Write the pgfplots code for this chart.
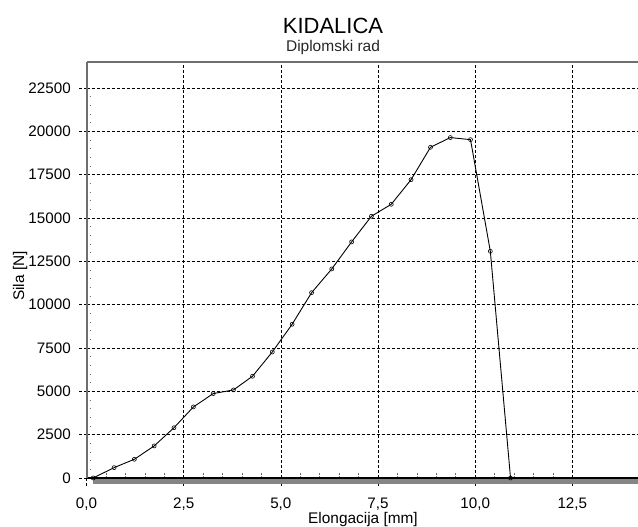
\documentclass[border=0pt]{standalone}
\usepackage{fontspec}
\setmainfont{Liberation Sans}
\usepackage{pgfplots}
\pgfplotsset{compat=1.18}
\definecolor{axgray}{HTML}{6E6E6E}
\definecolor{bandgray}{HTML}{858585}
\begin{document}
\begin{tikzpicture}
\useasboundingbox (0,0) rectangle (638pt,527pt);
\begin{axis}[
  at={(86.55pt,49pt)}, anchor=south west,
  scale only axis, width=551.45pt, height=416pt,
  xmin=0, xmax=14.19, ymin=0, ymax=24000,
  clip=false,
  scaled y ticks=false, scaled x ticks=false,
  axis x line*=bottom, axis y line*=left,
  x axis line style={-, black, line width=1.3pt},
  y axis line style={-, axgray, line width=2pt},
  xtick={0,2.5,5,7.5,10,12.5},
  xticklabels={{0,0},{2,5},{5,0},{7,5},{10,0},{12,5}},
  ytick={0,2500,5000,7500,10000,12500,15000,17500,20000,22500},
  yticklabels={0,2500,5000,7500,10000,12500,15000,17500,20000,22500},
  minor x tick num=4, minor y tick num=4,
  tick align=inside,
  major tick length=-8pt, minor tick length=5pt,
  major tick style={black, line width=0.6pt, dash pattern=on 3pt off 2pt},
  minor tick style={axgray, line width=0.6pt, dash pattern=on 1.5pt off 1.5pt},
  grid=major,
  major grid style={black, line width=0.6pt, dash pattern=on 3pt off 2pt},
  ticklabel style={font=\fontsize{15.2pt}{18pt}\selectfont, inner sep=0pt},
  xticklabel style={anchor=north, yshift=-20pt},
  yticklabel style={anchor=east, xshift=-15.6pt},
]
\addplot[bandgray, line width=5.5pt, no marks] coordinates {(0.16,-190) (14.19,-190)};
\addplot[black, line width=0.9pt, mark=o, mark size=2pt, mark options={solid, line width=0.6pt}] coordinates {
(0.17,0) (0.71,600) (1.23,1080) (1.74,1850) (2.25,2900) (2.75,4100) (3.26,4870) (3.78,5080)
(4.27,5870) (4.78,7270) (5.29,8870) (5.79,10690) (6.31,12060) (6.82,13620) (7.33,15100)
(7.84,15790) (8.35,17210) (8.85,19080) (9.36,19640) (9.88,19520) (10.39,13080) (10.91,0)
};
\addplot[black, line width=0.9pt, no marks] coordinates {(10.91,0) (11.5,0) (12.0,0)};
\draw[axgray, line width=1.3pt] (rel axis cs:0,1) -- (rel axis cs:1,1);
\end{axis}
\node[anchor=base, font=\fontsize{22pt}{26pt}\selectfont] at (333pt,493.7pt) {KIDALICA};
\node[anchor=base, text=black!85, font=\fontsize{15.5pt}{18pt}\selectfont] at (333pt,475.3pt) {Diplomski rad};
\node[anchor=base, font=\fontsize{15.4pt}{18pt}\selectfont] at (363pt,3.7pt) {Elongacija [mm]};
\node[anchor=base, rotate=90, font=\fontsize{15.4pt}{18pt}\selectfont] at (24pt,251pt) {Sila [N]};
\end{tikzpicture}
\end{document}
